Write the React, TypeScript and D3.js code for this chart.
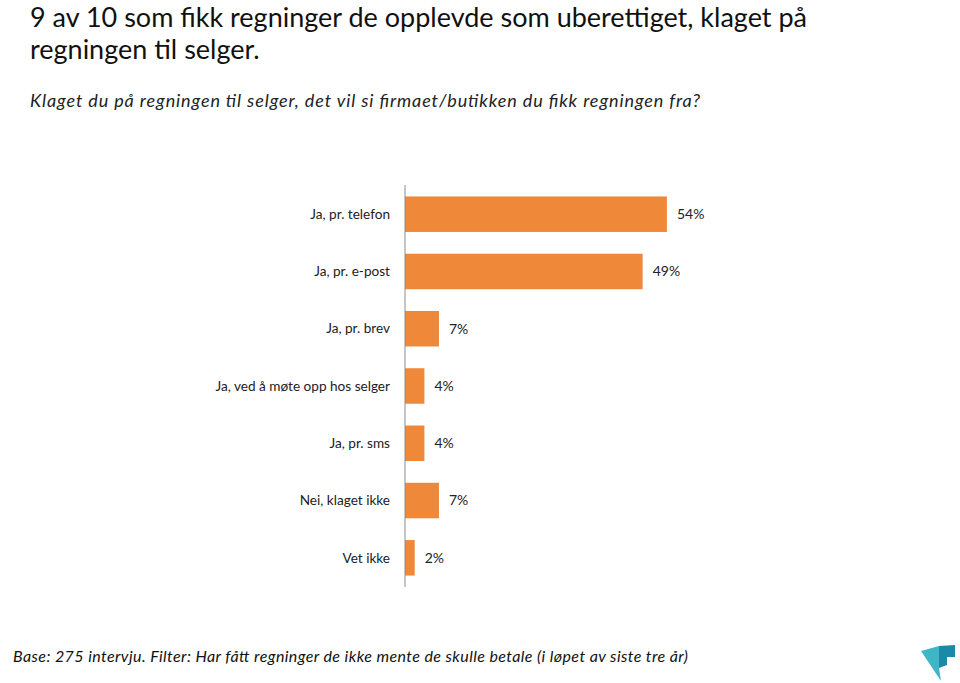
import { useEffect, useRef } from "react";
import * as d3 from "d3";

const categories = [
  "Ja, pr. telefon",
  "Ja, pr. e-post",
  "Ja, pr. brev",
  "Ja, ved å møte opp hos selger",
  "Ja, pr. sms",
  "Nei, klaget ikke",
  "Vet ikke",
];
const values = [54, 49, 7, 4, 4, 7, 2];

const titleLines = [
  "9 av 10 som fikk regninger de opplevde som uberettiget, klaget på",
  "regningen til selger.",
];
const subtitle =
  "Klaget du på regningen til selger, det vil si firmaet/butikken du fikk regningen fra?";
const footnote =
  "Base: 275 intervju. Filter: Har fått regninger de ikke mente de skulle betale (i løpet av siste tre år)";

const FONT = "Lato, 'Open Sans', sans-serif";

export default function App() {
  const svgRef = useRef<SVGSVGElement>(null);

  useEffect(() => {
    if (!svgRef.current) return;
    const svg = d3.select(svgRef.current);
    svg.selectAll("*").remove();

    const width = 960;
    const height = 683;

    svg.append("rect").attr("width", width).attr("height", height).attr("fill", "#fff");

    // Title
    svg
      .append("g")
      .selectAll("text")
      .data(titleLines)
      .enter()
      .append("text")
      .attr("x", 30)
      .attr("y", (_d, i) => 27 + i * 32)
      .attr("font-family", FONT)
      .attr("font-size", 27)
      .attr("fill", "#111")
      .text((d) => d);

    svg
      .append("text")
      .attr("x", 30)
      .attr("y", 107)
      .attr("font-family", FONT)
      .attr("font-style", "italic")
      .attr("font-size", 18)
      .attr("textLength", 670)
      .attr("lengthAdjust", "spacing")
      .attr("fill", "#222")
      .text(subtitle);

    // Scales
    const x = d3.scaleLinear().domain([0, 100]).range([405, 890]);
    const y = d3
      .scaleBand<string>()
      .domain(categories)
      .range([185, 587])
      .paddingInner(0.38)
      .paddingOuter(0.2);

    const g = svg.append("g");

    g.selectAll(".bar")
      .data(values)
      .enter()
      .append("rect")
      .attr("class", "bar")
      .attr("x", x(0))
      .attr("y", (_d, i) => y(categories[i]) as number)
      .attr("width", (d) => x(d) - x(0))
      .attr("height", y.bandwidth())
      .attr("fill", "#F0883A");

    // Axis line
    g.append("line")
      .attr("x1", x(0))
      .attr("x2", x(0))
      .attr("y1", 185)
      .attr("y2", 587)
      .attr("stroke", "#8c8c8c")
      .attr("stroke-width", 1);

    // Category labels
    g.selectAll(".cat")
      .data(categories)
      .enter()
      .append("text")
      .attr("class", "cat")
      .attr("x", x(0) - 15)
      .attr("y", (d) => (y(d) as number) + y.bandwidth() / 2)
      .attr("dy", "0.35em")
      .attr("text-anchor", "end")
      .attr("font-family", FONT)
      .attr("font-size", 13.6)
      .attr("fill", "#222")
      .text((d) => d);

    // Value labels
    g.selectAll(".val")
      .data(values)
      .enter()
      .append("text")
      .attr("class", "val")
      .attr("x", (d) => x(d) + 10)
      .attr("y", (_d, i) => (y(categories[i]) as number) + y.bandwidth() / 2)
      .attr("dy", "0.35em")
      .attr("font-family", FONT)
      .attr("font-size", 14)
      .attr("fill", "#222")
      .text((d) => `${d}%`);

    // Footnote
    svg
      .append("text")
      .attr("x", 13)
      .attr("y", 662)
      .attr("font-family", FONT)
      .attr("font-style", "italic")
      .attr("font-size", 16)
      .attr("textLength", 675)
      .attr("lengthAdjust", "spacing")
      .attr("fill", "#111")
      .text(footnote);

    // Logo
    const logo = svg.append("g");
    logo
      .append("polygon")
      .attr("points", "921,651 939,646 939,668 941,681")
      .attr("fill", "#3fb6c6");
    logo
      .append("polygon")
      .attr("points", "939,646 955,645 955,657 947,657 947,665 939,668")
      .attr("fill", "#1c8aa6");
  }, []);

  return (
    <svg
      ref={svgRef}
      width={960}
      height={683}
      style={{ position: "absolute", left: 0, top: 0 }}
    />
  );
}
